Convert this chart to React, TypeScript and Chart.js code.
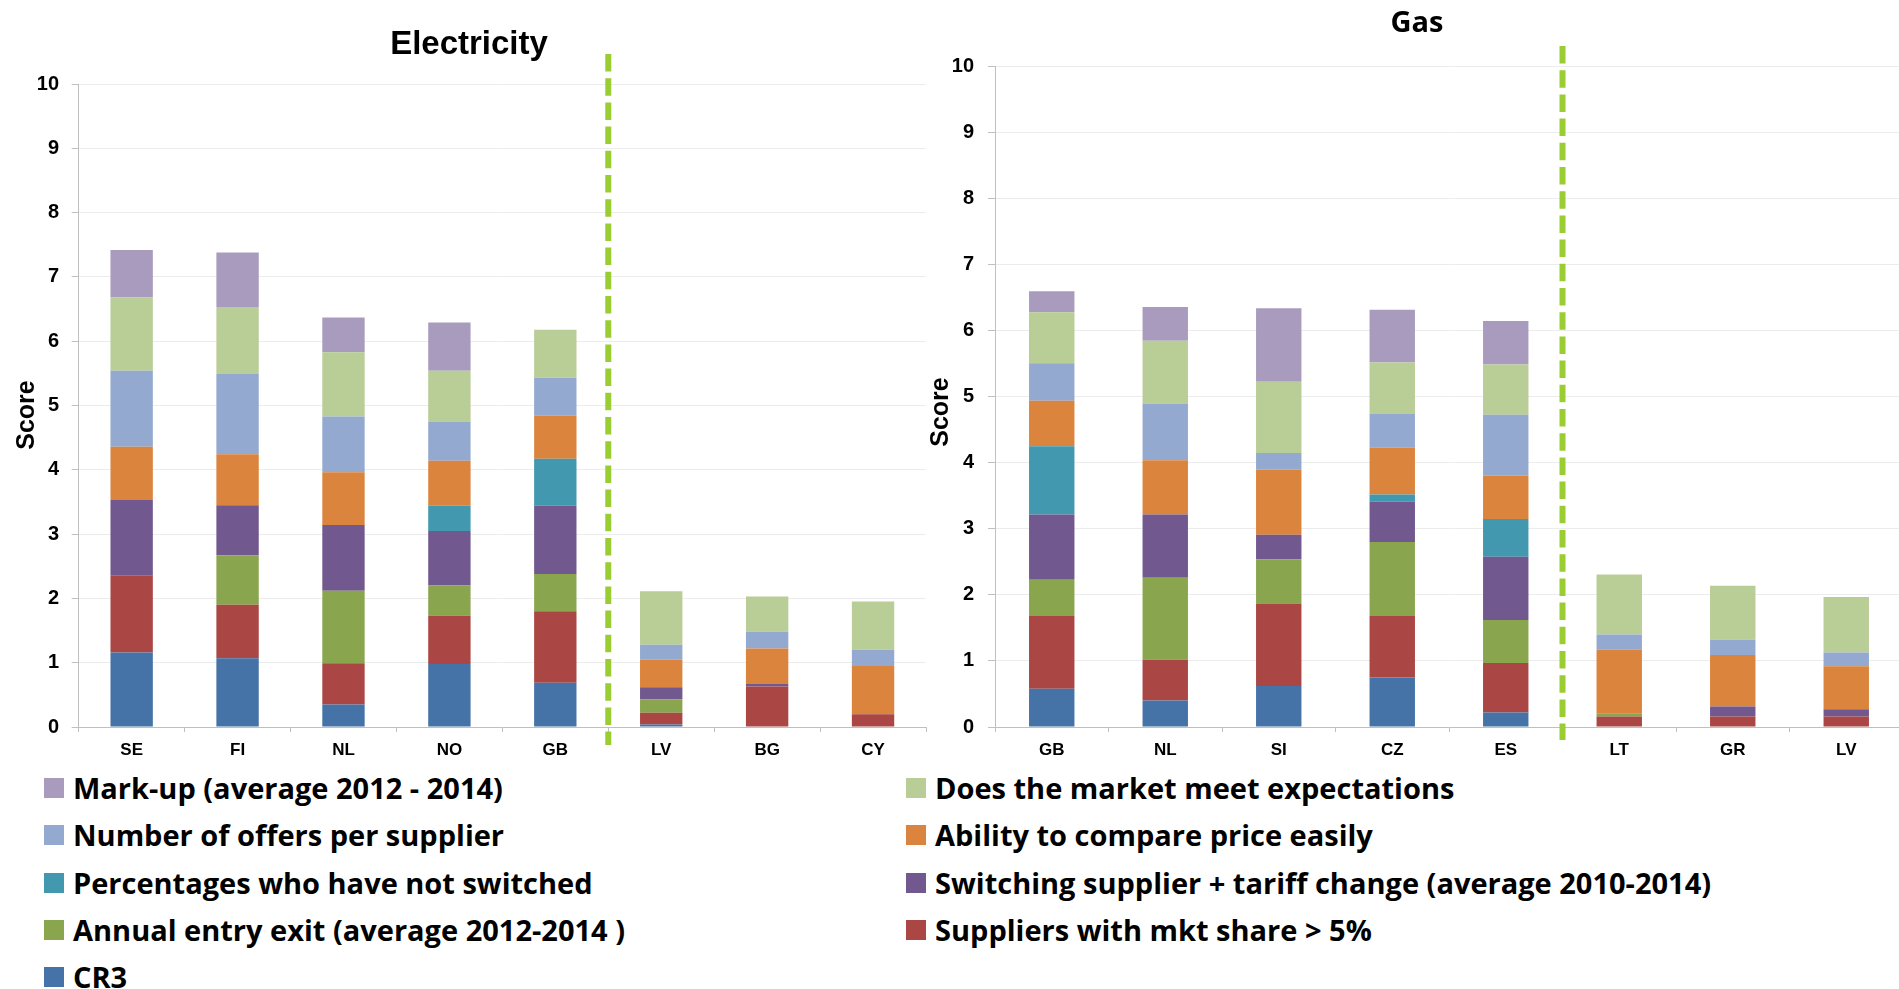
import React, { useEffect, useRef } from 'react';
import { Chart, registerables } from 'chart.js';

Chart.register(...registerables);

// ---- Series (bottom of stack first) ----
const seriesNames = [
  'CR3',
  'Suppliers with mkt share > 5%',
  'Annual entry exit (average 2012-2014 )',
  'Switching supplier + tariff change (average 2010-2014)',
  'Percentages who have not switched',
  'Ability to compare price easily',
  'Number of offers per supplier',
  'Does the market meet expectations',
  'Mark-up (average 2012 - 2014)',
];
const seriesColors = ['#4572A7', '#AA4643', '#89A54E', '#71588F', '#4198AF', '#DB843D', '#93A9CF', '#B9CD96', '#A99BBD'];

// ---- Electricity ----
const elecCountries = ['SE', 'FI', 'NL', 'NO', 'GB', 'LV', 'BG', 'CY'];
const elecCR3 = [1.16, 1.07, 0.35, 0.98, 0.69, 0.04, 0, 0];
const elecSuppliers = [1.2, 0.83, 0.64, 0.75, 1.11, 0.18, 0.63, 0.2];
const elecEntryExit = [0, 0.77, 1.13, 0.47, 0.58, 0.21, 0, 0];
const elecSwitching = [1.17, 0.78, 1.02, 0.85, 1.06, 0.19, 0.04, 0];
const elecNotSwitched = [0, 0, 0, 0.39, 0.73, 0, 0, 0];
const elecCompare = [0.83, 0.79, 0.82, 0.7, 0.67, 0.43, 0.55, 0.75];
const elecOffers = [1.18, 1.25, 0.87, 0.61, 0.59, 0.23, 0.26, 0.25];
const elecExpectations = [1.14, 1.04, 1.0, 0.79, 0.75, 0.83, 0.55, 0.75];
const elecMarkup = [0.74, 0.85, 0.54, 0.75, 0, 0, 0, 0];

// ---- Gas ----
const gasCountries = ['GB', 'NL', 'SI', 'CZ', 'ES', 'LT', 'GR', 'LV'];
const gasCR3 = [0.58, 0.4, 0.62, 0.75, 0.22, 0, 0, 0];
const gasSuppliers = [1.1, 0.62, 1.25, 0.93, 0.75, 0.16, 0.16, 0.16];
const gasEntryExit = [0.55, 1.24, 0.67, 1.12, 0.65, 0.05, 0, 0];
const gasSwitching = [0.99, 0.96, 0.37, 0.61, 0.96, 0, 0.15, 0.11];
const gasNotSwitched = [1.03, 0, 0, 0.11, 0.57, 0, 0, 0];
const gasCompare = [0.69, 0.82, 0.99, 0.71, 0.66, 0.96, 0.78, 0.65];
const gasOffers = [0.57, 0.86, 0.25, 0.51, 0.92, 0.23, 0.23, 0.21];
const gasExpectations = [0.77, 0.95, 1.08, 0.78, 0.76, 0.91, 0.82, 0.84];
const gasMarkup = [0.32, 0.51, 1.11, 0.8, 0.66, 0, 0, 0];

const yTicks = [0, 1, 2, 3, 4, 5, 6, 7, 8, 9, 10];

const elecSeries = [elecCR3, elecSuppliers, elecEntryExit, elecSwitching, elecNotSwitched, elecCompare, elecOffers, elecExpectations, elecMarkup];
const gasSeries = [gasCR3, gasSuppliers, gasEntryExit, gasSwitching, gasNotSwitched, gasCompare, gasOffers, gasExpectations, gasMarkup];

const ARIAL = '"Liberation Sans", Arial, sans-serif';
const CALIBRI = '"Open Sans", Lato, sans-serif';

const dividerPlugin = {
  id: 'divider',
  afterDraw(chart: any, _args: any, opts: any) {
    const xs = chart.scales.x;
    const px = (xs.getPixelForValue(opts.after) + xs.getPixelForValue(opts.after + 1)) / 2;
    const ctx = chart.ctx;
    ctx.save();
    ctx.strokeStyle = '#9ACD32';
    ctx.lineWidth = 6;
    ctx.setLineDash([17.5, 6.7]);
    ctx.beginPath();
    ctx.moveTo(px, opts.top);
    ctx.lineTo(px, opts.bottom);
    ctx.stroke();
    ctx.restore();
  },
};

const textsPlugin = {
  id: 'texts',
  afterDraw(chart: any, _args: any, opts: any) {
    const ctx = chart.ctx;
    ctx.save();
    ctx.fillStyle = '#000';
    ctx.textAlign = 'center';
    ctx.textBaseline = 'middle';
    ctx.font = opts.titleFont;
    ctx.fillText(opts.title, opts.titleX, opts.titleY);
    ctx.translate(opts.scoreX, opts.scoreY);
    ctx.rotate(-Math.PI / 2);
    ctx.font = 'bold 25px ' + ARIAL;
    ctx.fillText('Score', 0, 0);
    ctx.restore();
  },
};

function buildConfig(p: any) {
  return {
    type: 'bar',
    data: {
      labels: p.labels,
      datasets: p.series.map((vals: number[], i: number) => ({
        label: seriesNames[i],
        data: vals,
        backgroundColor: seriesColors[i],
        borderWidth: 0,
        barPercentage: 0.4,
        categoryPercentage: 1,
      })),
    },
    plugins: [dividerPlugin, textsPlugin],
    options: {
      responsive: false,
      maintainAspectRatio: false,
      animation: false,
      layout: { padding: { left: p.padLeft, right: p.padRight, top: p.padTop, bottom: 0 } },
      plugins: {
        legend: { display: false },
        tooltip: { enabled: false },
        title: { display: false },
        divider: { after: 4, top: p.divTop, bottom: p.divBottom },
        texts: {
          title: p.title,
          titleFont: p.titleFont,
          titleX: p.titleX,
          titleY: p.titleY,
          scoreX: p.scoreX,
          scoreY: p.scoreY,
        },
      },
      scales: {
        x: {
          stacked: true,
          afterFit: (s: any) => { s.height = 33; },
          grid: { drawOnChartArea: false, drawTicks: true, tickLength: 5, tickColor: '#BFBFBF', offset: true },
          border: { display: true, color: '#BFBFBF', width: 1 },
          ticks: { color: '#000', padding: 8, font: { family: ARIAL, size: 17, weight: 'bold' }, maxRotation: 0 },
        },
        y: {
          stacked: true,
          min: 0,
          max: 10,
          afterFit: (s: any) => { s.width = p.yWidth; },
          afterBuildTicks: (s: any) => { s.ticks = yTicks.map((v) => ({ value: v })); },
          grid: { color: '#ECECEC', tickColor: '#BFBFBF', tickLength: 7, drawTicks: true },
          border: { display: true, color: '#BFBFBF', width: 1 },
          ticks: { color: '#000', padding: p.yPad, font: { family: ARIAL, size: 20, weight: 'bold' } },
          title: { display: false },
        },
      },
    },
  };
}

function ChartPanel({ cfg, left, width, height }: any) {
  const ref = useRef<HTMLCanvasElement | null>(null);
  useEffect(() => {
    const chart = new Chart(ref.current as HTMLCanvasElement, cfg);
    return () => chart.destroy();
  }, []);
  return (
    <canvas
      ref={ref}
      width={width}
      height={height}
      style={{ position: 'absolute', left, top: 0, width, height }}
    />
  );
}

const elecCfg = buildConfig({
  labels: elecCountries,
  series: elecSeries,
  title: 'Electricity',
  titleFont: 'bold 33px ' + ARIAL,
  titleX: 469,
  titleY: 45,
  scoreX: 27,
  scoreY: 415,
  padLeft: 0,
  padRight: 14,
  padTop: 84,
  yWidth: 78.7,
  yPad: 12.7,
  divTop: 54,
  divBottom: 745,
});

const gasCfg = buildConfig({
  labels: gasCountries,
  series: gasSeries,
  title: 'Gas',
  titleFont: 'bold 29px ' + CALIBRI,
  titleX: 507,
  titleY: 24,
  scoreX: 31,
  scoreY: 412,
  padLeft: 13,
  padRight: 0,
  padTop: 66.7,
  yWidth: 72,
  yPad: 14,
  divTop: 46,
  divBottom: 740,
});

export default function App() {
  const legendItems = seriesNames.map((n, i) => ({ name: n, color: seriesColors[i] })).reverse();
  return (
    <div style={{ position: 'absolute', left: 0, top: 0, width: 1899, height: 989, background: '#fff', overflow: 'hidden' }}>
      <ChartPanel cfg={elecCfg} left={0} width={940} height={760} />
      <ChartPanel cfg={gasCfg} left={910} width={993} height={760} />
      {legendItems.map((it, i) => {
        const col = i % 2;
        const row = Math.floor(i / 2);
        return (
          <div
            key={it.name}
            style={{
              position: 'absolute',
              left: col === 0 ? 44 : 906,
              top: 788 + row * 47.25 - 23,
              height: 46,
              display: 'flex',
              alignItems: 'center',
              whiteSpace: 'nowrap',
            }}
          >
            <span style={{ display: 'inline-block', width: 20, height: 20, background: it.color, marginRight: 9 }} />
            <span style={{ fontFamily: CALIBRI, fontWeight: 700, fontSize: 29, color: '#000', lineHeight: '46px' }}>{it.name}</span>
          </div>
        );
      })}
    </div>
  );
}
